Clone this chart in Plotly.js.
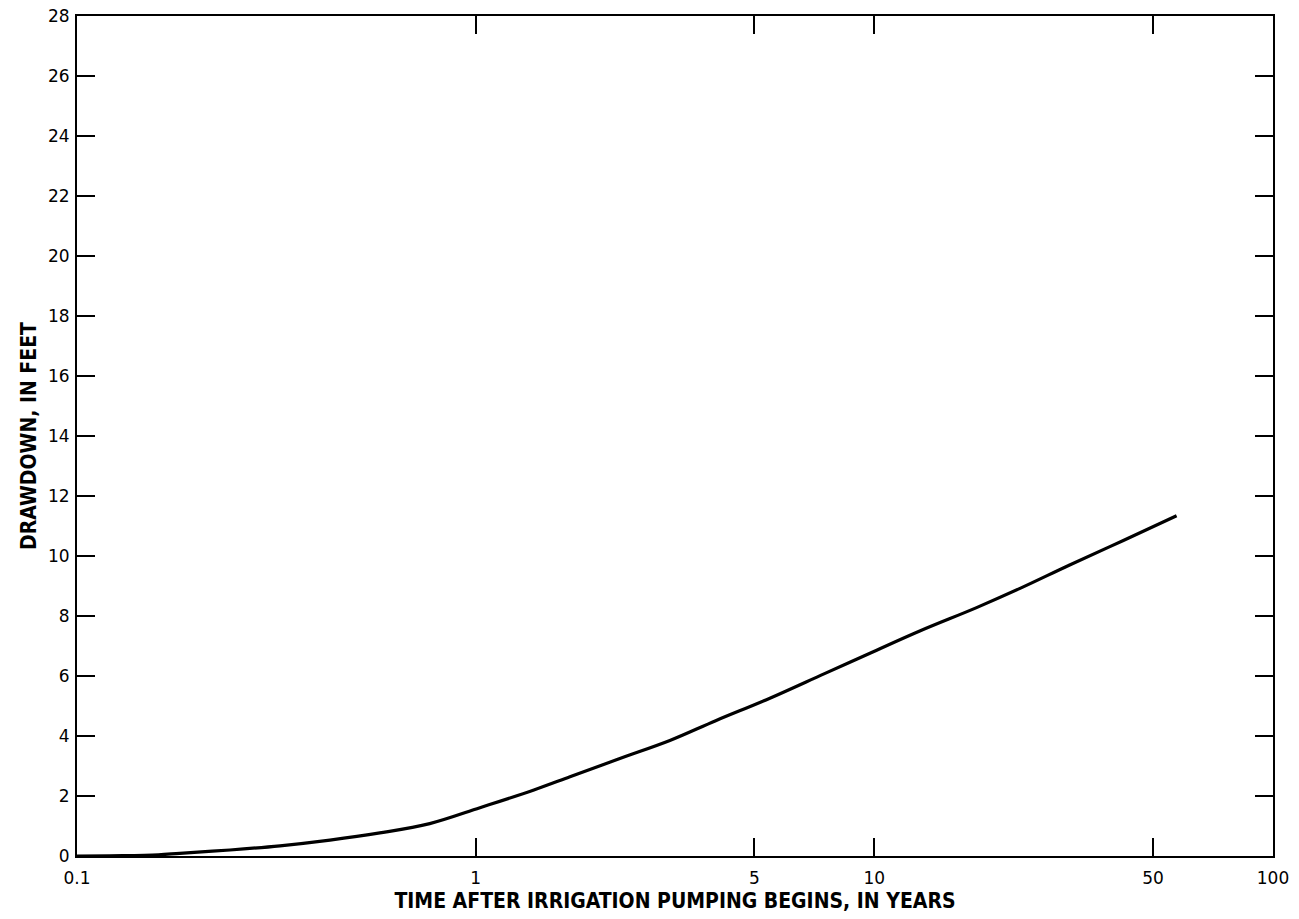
<!DOCTYPE html>
<html>
<head>
<meta charset="utf-8">
<script src="https://cdn.plot.ly/plotly-3.0.1.min.js"></script>
<style>html,body{margin:0;padding:0;background:#fff;}#chart{width:1299px;height:919px;}</style>
</head>
<body>
<div id="chart"></div>
<script>
// Time after irrigation pumping begins, in years
var timeYears = [0.1, 0.13, 0.16, 0.181, 0.242, 0.323, 0.431, 0.575, 0.767, 1.025, 1.4, 1.724, 2.3, 3.07, 4.0, 5.47, 7.5, 9.75, 13, 18.05, 23.2, 30.9, 42, 57.3];
// Drawdown, in feet
var drawdownFeet = [0, 0.01, 0.04, 0.09, 0.2, 0.34, 0.53, 0.77, 1.08, 1.61, 2.2, 2.64, 3.25, 3.85, 4.51, 5.26, 6.08, 6.76, 7.5, 8.28, 8.92, 9.7, 10.51, 11.34];

var xTickVals = [0.1, 1, 5, 10, 50, 100];
var xTickText = ['0.1', '1', '5', '10', '50', '100'];
var yTickVals = [0, 2, 4, 6, 8, 10, 12, 14, 16, 18, 20, 22, 24, 26, 28];

var trace = {
  x: timeYears,
  y: drawdownFeet,
  mode: 'lines',
  line: {color: '#000', width: 3.2, shape: 'spline', smoothing: 1},
  hoverinfo: 'skip'
};

var tickFont = {family: 'DejaVu Sans, Liberation Sans, sans-serif', size: 17, color: '#000'};
var titleFont = {family: 'DejaVu Sans Condensed, Liberation Sans Narrow, sans-serif', size: 21, color: '#000', weight: 'bold'};

var layout = {
  width: 1299,
  height: 919,
  margin: {l: 77, r: 26, t: 16, b: 63},
  paper_bgcolor: '#fff',
  plot_bgcolor: '#fff',
  showlegend: false,
  xaxis: {
    type: 'log',
    range: [-1, 2],
    tickvals: xTickVals,
    ticktext: xTickText,
    ticks: 'inside',
    ticklen: 18,
    tickwidth: 2,
    tickcolor: '#000',
    ticklabelstandoff: 6,
    showgrid: false,
    zeroline: false,
    showline: true,
    linecolor: '#000',
    linewidth: 2,
    mirror: 'allticks',
    tickfont: tickFont,
    title: {text: 'TIME AFTER IRRIGATION PUMPING BEGINS, IN YEARS', font: titleFont, standoff: 6},
    fixedrange: true
  },
  yaxis: {
    range: [0, 28],
    tickvals: yTickVals,
    ticks: 'inside',
    ticklen: 18,
    tickwidth: 2,
    tickcolor: '#000',
    ticklabelstandoff: 2,
    showgrid: false,
    zeroline: false,
    showline: true,
    linecolor: '#000',
    linewidth: 2,
    mirror: 'allticks',
    tickfont: tickFont,
    title: {text: 'DRAWDOWN, IN FEET', font: titleFont, standoff: 6},
    fixedrange: true
  }
};

Plotly.newPlot('chart', [trace], layout, {displayModeBar: false, staticPlot: true});
</script>
</body>
</html>
